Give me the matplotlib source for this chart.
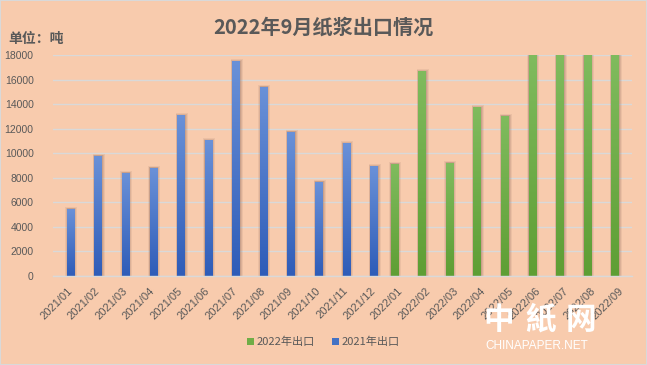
import matplotlib
matplotlib.use("Agg")
import matplotlib.pyplot as plt
import numpy as np
from matplotlib.patches import Rectangle
from matplotlib.colors import LinearSegmentedColormap

plt.rcParams['font.family'] = ['Noto Sans CJK SC', 'DejaVu Sans']

categories = ['2021/01', '2021/02', '2021/03', '2021/04', '2021/05', '2021/06',
              '2021/07', '2021/08', '2021/09', '2021/10', '2021/11', '2021/12',
              '2022/01', '2022/02', '2022/03', '2022/04', '2022/05', '2022/06',
              '2022/07', '2022/08', '2022/09']
exports_2021 = [5450, 9770, 8390, 8800, 13110, 11070, 17500, 15400, 11730, 7650, 10800, 8950]
exports_2022 = [9120, 16690, 9200, 13760, 13030, 18000, 18000, 18000, 18000]
yticks = [0, 2000, 4000, 6000, 8000, 10000, 12000, 14000, 16000, 18000]

BG = '#F8CBAD'
TXT = '#595959'
GRID = '#D9D9D9'

fig = plt.figure(figsize=(6.47, 3.65), dpi=100, facecolor=BG)
ax = fig.add_axes([0.082, 0.244, 0.895, 0.605], facecolor=BG)

n = len(categories)
x = np.arange(n)
w = 0.254
x21 = x[:12] + 0.127
x22 = x[12:] - 0.127

cmap_blue = LinearSegmentedColormap.from_list('b', ['#2E5CB8', '#6A91D8'])
cmap_green = LinearSegmentedColormap.from_list('g', ['#5E9E34', '#80BB5E'])
grad = np.linspace(0, 1, 256).reshape(-1, 1)

PX = 1.0 / 27.57       # one pixel in x data units
PY = 18000.0 / 221.0   # one pixel in y data units

def draw_bars(xs, vals, cmap, label, color):
    bars = ax.bar(xs, vals, width=w, color=color, zorder=3, label=label)
    for b in bars:
        x0, y0 = b.get_x(), b.get_y()
        bw, bh = b.get_width(), b.get_height()
        for dl, dr, dt, a in [(1.5, 3.5, 2.0, 0.10), (1.0, 2.5, 1.2, 0.14), (0.3, 1.5, 0.6, 0.18)]:
            ax.add_patch(Rectangle((x0 - dl * PX, y0), bw + (dl + dr) * PX, bh + dt * PY,
                                   facecolor='#7A5A50', alpha=a, edgecolor='none',
                                   zorder=2.5, clip_on=True))
        im = ax.imshow(grad, extent=[x0, x0 + bw, y0, y0 + bh], origin='lower',
                       cmap=cmap, aspect='auto', zorder=3.5)
        im.set_clip_path(b)
    return bars

draw_bars(x22, exports_2022, cmap_green, '2022年出口', '#70AD47')
draw_bars(x21, exports_2021, cmap_blue, '2021年出口', '#4472C4')

ax.set_xlim(-0.5, n - 0.5)
ax.set_ylim(0, 18000)
ax.set_yticks(yticks)
ax.set_yticklabels([str(v) for v in yticks], fontsize=7.5, color=TXT,
                   family=['Liberation Sans', 'DejaVu Sans'])
ax.set_xticks(x)
ax.set_xticklabels(categories, rotation=45, ha='right', rotation_mode='anchor',
                   fontsize=8, color=TXT, family=['Liberation Sans', 'DejaVu Sans'])
ax.tick_params(axis='y', length=0, pad=14)
ax.tick_params(axis='x', length=0, pad=7)
ax.grid(axis='y', color=GRID, linewidth=1, zorder=0)
for s in ['top', 'right', 'left']:
    ax.spines[s].set_visible(False)
ax.spines['bottom'].set_color(GRID)
ax.spines['bottom'].set_linewidth(1)
ax.spines['bottom'].set_zorder(4)
ax.set_xlim(-0.5, n - 0.5)
ax.set_ylim(0, 18000)

fig.text(0.5, 0.925, '2022年9月纸浆出口情况', ha='center', va='center',
         fontsize=14.5, fontweight='bold', color=TXT)
fig.text(0.013, 0.893, '单位：吨', ha='left', va='center', fontsize=10,
         fontweight='bold', color=TXT)

leg = fig.legend(loc='center', bbox_to_anchor=(0.5, 0.063), ncol=2, frameon=False,
                 fontsize=8, handlelength=0.6, handleheight=0.6, handletextpad=0.3,
                 columnspacing=1.5, labelcolor=TXT)

# watermark
for ch, fx in zip(['中', '紙', '网'], [0.770, 0.835, 0.898]):
    fig.text(fx, 0.124, ch, ha='center', va='center', fontsize=22, fontweight='bold',
             color='white', family=['Noto Sans CJK TC', 'Noto Sans CJK SC'])
fig.text(0.830, 0.052, 'CHINAPAPER.NET', ha='center', va='center', fontsize=8.5,
         color='white', family=['Liberation Sans', 'DejaVu Sans'])

fig.add_artist(Rectangle((0, 0), 1, 1, transform=fig.transFigure, fill=False,
                         edgecolor=GRID, linewidth=1.5))

fig.savefig('out.png', dpi=100, facecolor=BG)
